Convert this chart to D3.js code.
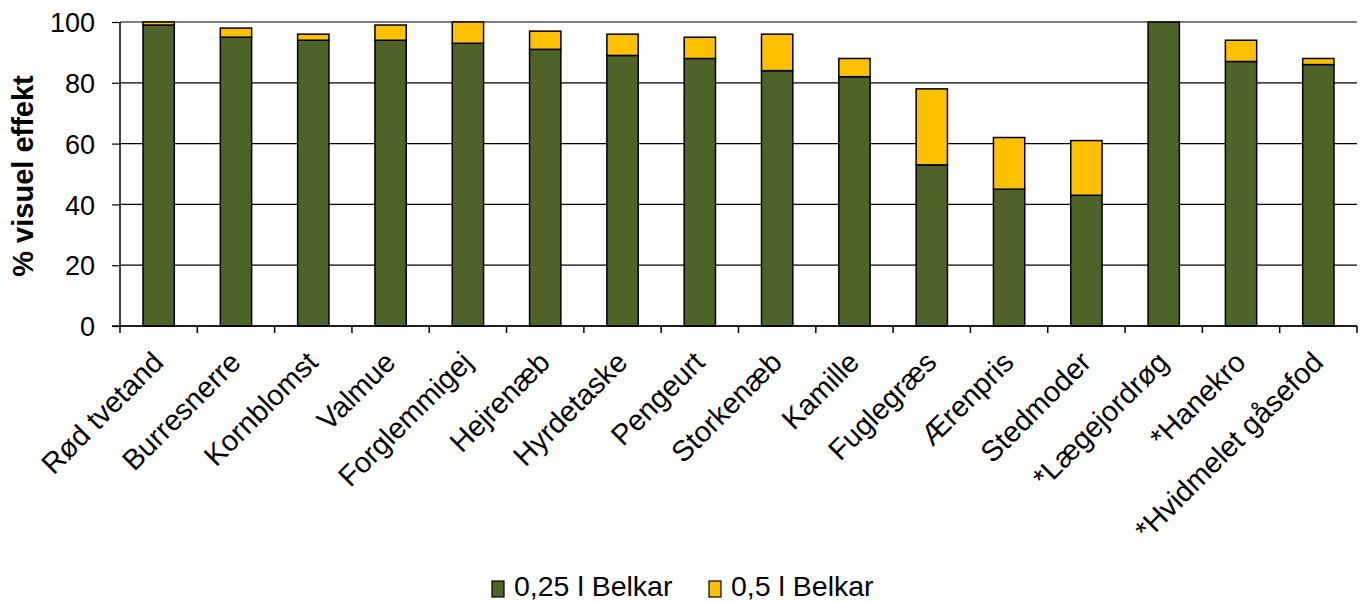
<!DOCTYPE html>
<html>
<head>
<meta charset="utf-8">
<script src="https://cdn.jsdelivr.net/npm/d3@7/dist/d3.min.js"></script>
<style>
  html, body { margin: 0; padding: 0; background: #fff; }
  svg { display: block; }
  text { font-family: "Liberation Sans", Arial, sans-serif; fill: #000; }
</style>
</head>
<body>
<svg id="chart" width="1364" height="602"></svg>
<script>
const categories = ["Rød tvetand", "Burresnerre", "Kornblomst", "Valmue", "Forglemmigej", "Hejrenæb", "Hyrdetaske", "Pengeurt", "Storkenæb", "Kamille", "Fuglegræs", "Ærenpris", "Stedmoder", "*Lægejordrøg", "*Hanekro", "*Hvidmelet gåsefod"];
const belkar025 = [99, 95, 94, 94, 93, 91, 89, 88, 84, 82, 53, 45, 43, 100, 87, 86];
const belkar05extra = [1, 3, 2, 5, 7, 6, 7, 7, 12, 6, 25, 17, 18, 0, 7, 2];
const seriesNames = ["0,25 l Belkar", "0,5 l Belkar"];
const seriesColors = ["#4F6228", "#FFC000"];
const yTicks = [0, 20, 40, 60, 80, 100];
const yTitle = "% visuel effekt";

const svg = d3.select("#chart");
const pL = 120, pR = 1357, pT = 22, pB = 326;

const xOuter = d3.scaleBand().domain(categories).range([pL, pR]).padding(0);
const x = d3.scaleBand().domain(categories).range([pL, pR]).paddingInner(0.595).paddingOuter(0.2975);
const y = d3.scaleLinear().domain([0, 100]).range([pB, pT]);

// gridlines
svg.append("g")
  .selectAll("line").data(yTicks).join("line")
  .attr("x1", pL).attr("x2", pR)
  .attr("y1", d => y(d)).attr("y2", d => y(d))
  .attr("stroke", "#000").attr("stroke-width", 1.2);

// stacked data
const rows = categories.map((c, i) => ({ cat: c, a: belkar025[i], b: belkar05extra[i] }));
const stack = d3.stack().keys(["a", "b"])(rows);

const g = svg.append("g");
stack.forEach((layer, li) => {
  g.append("g").selectAll("rect").data(layer.filter(d => d[1] - d[0] > 0)).join("rect")
    .attr("x", d => x(d.data.cat))
    .attr("width", x.bandwidth())
    .attr("y", d => y(d[1]))
    .attr("height", d => y(d[0]) - y(d[1]))
    .attr("fill", seriesColors[li])
    .attr("stroke", "#000")
    .attr("stroke-width", 1.5);
});

// y axis
const yAxis = svg.append("g").attr("transform", `translate(${pL},0)`)
  .call(d3.axisLeft(y).tickValues(yTicks).tickSize(8).tickPadding(17).tickFormat(d3.format("d")));
yAxis.select(".domain").attr("stroke", "#000").attr("stroke-width", 1.5).attr("d", `M0,${pT}V${pB}`);
yAxis.selectAll(".tick line").attr("stroke", "#000").attr("stroke-width", 1.2);
yAxis.selectAll(".tick text").style("font-size", "27px").style("font-family", "Liberation Sans, Arial, sans-serif").attr("dy", "0.36em");

// x axis
svg.append("line").attr("x1", pL - 8).attr("x2", pR).attr("y1", pB).attr("y2", pB)
  .attr("stroke", "#000").attr("stroke-width", 1.5);
const bounds = categories.map(c => xOuter(c)).concat([pR]);
svg.append("g").selectAll("line").data(bounds).join("line")
  .attr("x1", d => d).attr("x2", d => d)
  .attr("y1", pB).attr("y2", pB + 7)
  .attr("stroke", "#000").attr("stroke-width", 1.5);

// category labels
const fs = 29;
svg.append("g").selectAll("text").data(categories).join("text")
  .attr("transform", d => `translate(${xOuter(d) + xOuter.bandwidth() / 2 + 6.5},364) rotate(-45)`)
  .attr("text-anchor", "end")
  .style("font-size", fs + "px")
  .text(d => d);

// y title
svg.append("text")
  .attr("transform", `translate(33,${(pT + pB) / 2 + 2}) rotate(-90)`)
  .attr("text-anchor", "middle")
  .style("font-size", "29px").style("font-weight", "bold")
  .text(yTitle);

// legend
const legend = svg.append("g");
const legendItems = [{ name: seriesNames[0], color: seriesColors[0], x: 492 }, { name: seriesNames[1], color: seriesColors[1], x: 709 }];
legendItems.forEach(it => {
  legend.append("rect").attr("x", it.x).attr("y", 581).attr("width", 12).attr("height", 16)
    .attr("fill", it.color).attr("stroke", "#000").attr("stroke-width", 1.2);
  legend.append("text").attr("x", it.x + 22).attr("y", 596)
    .style("font-size", "28.5px").text(it.name);
});
</script>
</body>
</html>
